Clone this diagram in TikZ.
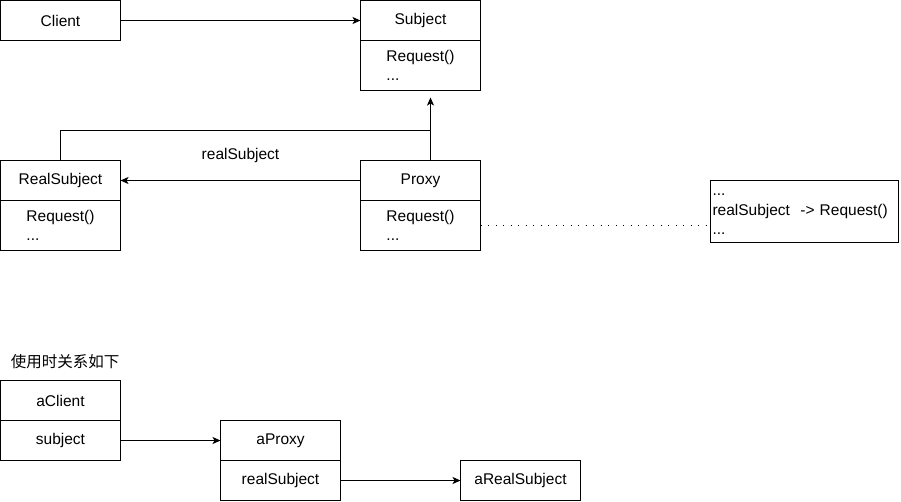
\documentclass[tikz,border=0pt]{standalone}
\usepackage{fontspec}
\setmainfont{Liberation Sans}
\newfontfamily\cjk{Noto Sans CJK SC}
\usetikzlibrary{positioning,arrows.meta}

\begin{document}
\begin{tikzpicture}[x=1pt, y=-1pt, line width=0.9pt, font=\fontsize{15.5}{19.5}\selectfont,
	head/.style={draw, minimum width=120pt, minimum height=40pt, inner sep=0pt, outer sep=0pt},
	ops/.style={draw, minimum width=120pt, minimum height=50pt, inner sep=0pt, outer sep=0pt, align=left},
	arr/.style={-{Stealth[length=8pt, width=7pt, inset=2pt]}}]
		\useasboundingbox (-0.5,-0.5) rectangle (900.5,500.5);
		\node[head] (client) at (60,20) {Client};
		\node[head] (subject) at (420,20) {Subject};
		\node[ops, below=0pt of subject] (subjectops) {Request()\\...};
		\node[head] (realsubject) at (60,180) {RealSubject};
		\node[ops, below=0pt of realsubject] (realsubjectops) {Request()\\...};
		\node[head] (proxy) at (420,180) {Proxy};
		\node[ops, below=0pt of proxy] (proxyops) {Request()\\...};
		\node[draw, outer sep=0pt, inner xsep=2pt, inner ysep=0pt, text width=184pt, minimum height=62pt, align=left] (note) at (804,211) {\rule{0pt}{7.7pt}...\\realSubject\ \ -> Request()\\...};
		\coordinate (joint) at (430,130);
		\draw[arr] (client) -- (subject);
		\draw[arr] (proxy) -- node[above=17pt, inner sep=0pt] (reallabel) {realSubject} (realsubject);
		\draw (realsubject.north) |- (joint);
		\draw[arr] (proxy.north -| joint) -- ([yshift=-7pt]subjectops.south -| joint);
		\draw[dash pattern=on 1pt off 6.5pt] (proxyops.east) -- (proxyops.east -| note.west);

		\node[anchor=west, inner sep=0pt, font=\cjk\fontsize{15.5}{19.5}\selectfont] (usage) at (10,361.5) {使用时关系如下};
		\node[head] (aclient) at (60,400) {aClient};
		\node[head, below=0pt of aclient] (aclientfield) {subject};
		\node[head] (aproxy) at (280,440) {aProxy};
		\node[head, below=0pt of aproxy] (aproxyfield) {realSubject};
		\node[head] (arealsubject) at (520,480) {aRealSubject};
		\draw[arr] (aclientfield) -- (aproxy);
		\draw[arr] (aproxyfield) -- (arealsubject);
	\end{tikzpicture}
\end{document}
